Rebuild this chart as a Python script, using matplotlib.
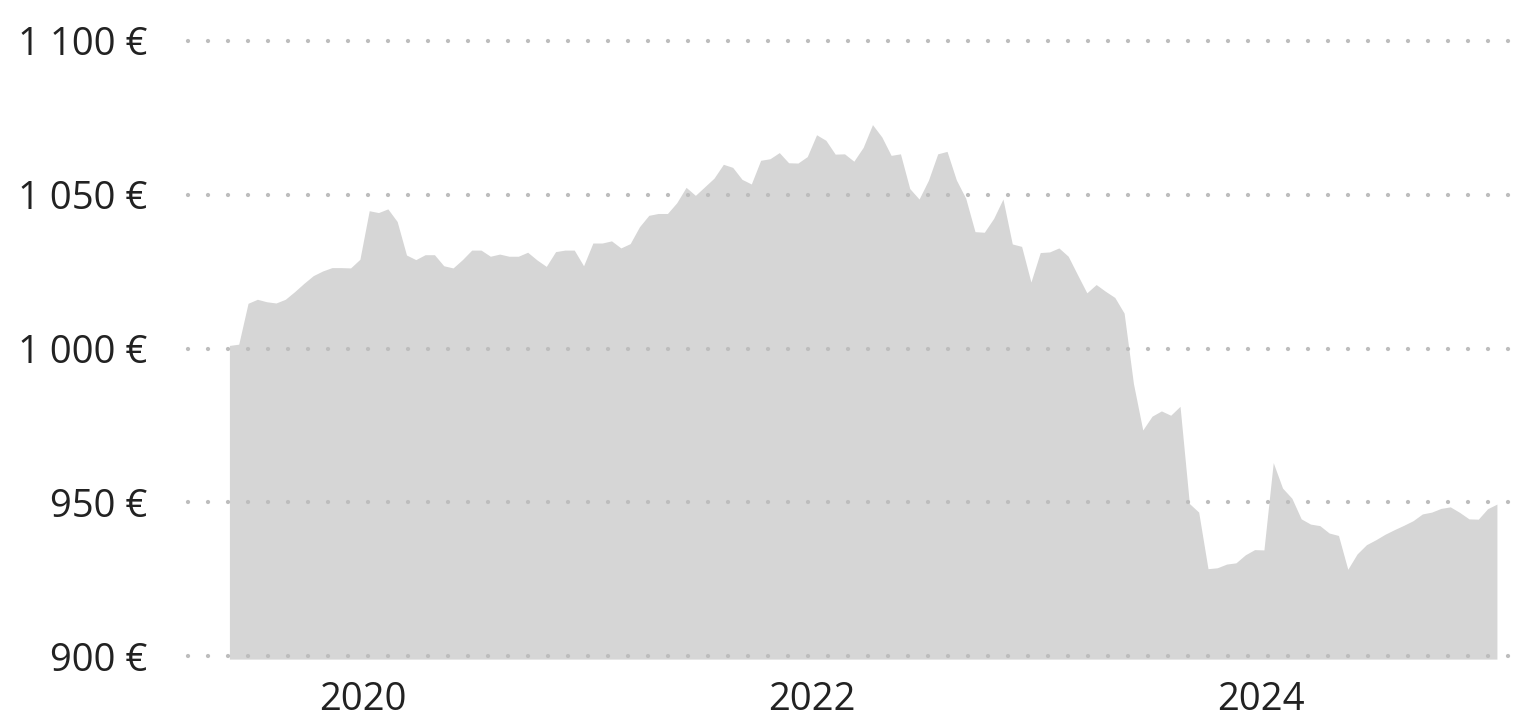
import pandas as pd
import matplotlib
matplotlib.use("Agg")
import matplotlib.pyplot as plt
import matplotlib.dates as mdates
from matplotlib.ticker import FuncFormatter

plt.rcParams['font.family'] = ['Open Sans', 'DejaVu Sans']
plt.rcParams['lines.scale_dashes'] = False

# valeurs (un point tous les ~15 jours)
start_date = '2019-05-29'
end_date = '2025-01-19'
values = [
    1001.0, 1001.4, 1014.7, 1016.0, 1015.2, 1014.8, 1016.0, 1018.5, 1021.2, 1023.7,
    1025.2, 1026.3, 1026.3, 1026.2, 1029.0, 1044.8, 1044.2, 1045.4, 1041.3, 1030.4,
    1028.9, 1030.5, 1030.5, 1026.9, 1026.2, 1028.9, 1032.0, 1032.0, 1030.0, 1030.7,
    1030.0, 1030.0, 1031.3, 1028.8, 1026.7, 1031.5, 1032.0, 1032.0, 1026.9, 1034.3,
    1034.3, 1035.0, 1032.7, 1034.1, 1039.6, 1043.3, 1043.9, 1043.9, 1047.4, 1052.4,
    1049.8, 1052.6, 1055.4, 1059.9, 1058.9, 1055.0, 1053.5, 1061.2, 1061.7, 1063.7,
    1060.4, 1060.3, 1062.4, 1069.5, 1067.7, 1063.2, 1063.3, 1060.9, 1065.4, 1072.8,
    1068.8, 1062.8, 1063.3, 1052.0, 1048.6, 1054.7, 1063.3, 1064.1, 1054.8, 1048.9,
    1038.0, 1037.8, 1042.3, 1048.6, 1034.0, 1033.2, 1021.6, 1031.2, 1031.4, 1032.7,
    1030.0, 1024.0, 1018.1, 1020.8, 1018.6, 1016.6, 1011.5, 988.6, 973.5, 978.0,
    979.7, 978.3, 981.2, 949.6, 946.8, 928.4, 928.7, 929.9, 930.3, 932.9,
    934.6, 934.5, 962.9, 954.6, 951.3, 944.6, 942.9, 942.4, 940.0, 939.2,
    928.2, 933.2, 936.2, 937.8, 939.6, 941.1, 942.5, 944.0, 946.2, 946.8,
    948.0, 948.5, 946.7, 944.6, 944.5, 947.9, 949.4,
]
y_ticks = [900, 950, 1000, 1050, 1100]
x_ticks = ['2020-01-01', '2022-01-01', '2024-01-01']

dates = pd.date_range(start_date, end_date, periods=len(values))

W, H = 1523, 717
fig = plt.figure(figsize=(W / 100, H / 100), dpi=100)
left_px, right_px = 188, 1510
top_px, bot_px = 37.9, 659.1
ax = fig.add_axes([left_px / W, 1 - bot_px / H, (right_px - left_px) / W, (bot_px - top_px) / H])

ax.fill_between(dates, values, 899, color='#d6d6d6', linewidth=0, zorder=1)

# axe x: 2020-01-01 a 362.8 px, 0.6147 px par jour
x_ref = mdates.date2num(pd.Timestamp('2020-01-01'))
px_per_day = 0.6147
ax.set_xlim(x_ref + (left_px - 362.8) / px_per_day, x_ref + (right_px - 362.8) / px_per_day)
ax.set_ylim(899, 1101)

for v in y_ticks:
    ax.axhline(v, color='#bdbdbd', lw=3.1, linestyle=(0, (0.01, 14.39)),
               dash_capstyle='round', clip_on=False, zorder=3)

ax.set_yticks(y_ticks)
ax.yaxis.set_major_formatter(FuncFormatter(lambda v, p: f"{int(v):,} €".replace(',', '\u00a0')))
ax.set_xticks([pd.Timestamp(d) for d in x_ticks])
ax.xaxis.set_major_formatter(mdates.DateFormatter('%Y'))

ax.tick_params(axis='both', length=0, labelsize=27.5, labelcolor='#222222')
ax.tick_params(axis='y', pad=29)
ax.tick_params(axis='x', pad=16)
for s in ax.spines.values():
    s.set_visible(False)

fig.savefig('out.png', dpi=100)
